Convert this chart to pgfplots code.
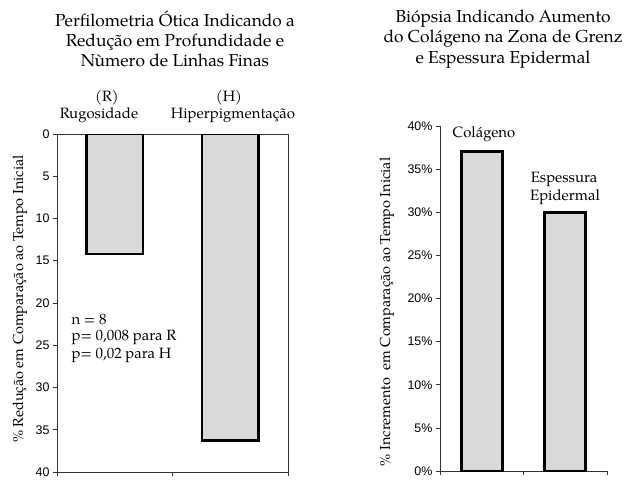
\documentclass[border=0pt]{standalone}
\usepackage{pgfplots}
\pgfplotsset{compat=1.18}
\usepackage{fontspec}
\setmainfont{TeX Gyre Pagella}
\newfontfamily\arial{Liberation Sans}
\definecolor{barfill}{HTML}{D9D9D9}
\begin{document}
\begin{tikzpicture}[x=1bp,y=1bp]
\useasboundingbox (0,0) rectangle (628,-480);
% Left panel
\begin{axis}[
  at={(57bp,-472bp)}, anchor=south west,
  width=231bp, height=338bp, scale only axis,
  ymin=0, ymax=40, y dir=reverse,
  xmin=-0.5, xmax=1.5,
  xtick={-0.5,0.5,1.5}, xticklabels={,,}, xtick pos=left,
  ytick={0,5,...,40}, ytick pos=left,
  tick align=outside, major tick length=4bp,
  tick style={black!80, line width=0.6pt},
  axis line style={black!80, line width=0.6pt},
  /pgf/number format/assume math mode=true,
  yticklabel style={font=\arial\fontsize{12.5}{14}\selectfont},
  ybar, bar width=0.49,
]
\addplot[fill=barfill, draw=black, line width=2.8bp] coordinates {(0,14.2) (1,36.3)};
\end{axis}
% Right panel
\begin{axis}[
  at={(440bp,-471bp)}, anchor=south west,
  width=167bp, height=345bp, scale only axis,
  axis lines=left, axis line style={-, black!80, line width=0.6pt},
  ymin=0, ymax=40,
  xmin=-0.5, xmax=1.5,
  xtick={-0.5,0.5,1.5}, xticklabels={,,},
  ytick={0,5,...,40},
  yticklabel={\pgfmathprintnumber{\tick}\%},
  tick align=outside, major tick length=4bp,
  tick style={black!80, line width=0.6pt},
  /pgf/number format/assume math mode=true,
  yticklabel style={font=\arial\fontsize{12.5}{14}\selectfont},
  ybar, bar width=0.49,
]
\addplot[fill=barfill, draw=black, line width=2.8bp] coordinates {(0,37) (1,30)};
\end{axis}
% Titles
\node[align=center, font=\fontsize{17.4}{20.5}\selectfont] at (175,-39)
  {Perfilometria Ótica Indicando a\\Redução em Profundidade e\\Nùmero de Linhas Finas};
\node[align=center, font=\fontsize{17.4}{20.5}\selectfont] at (503,-39)
  {Biópsia Indicando Aumento\\do Colágeno na Zona de Grenz\\e Espessura Epidermal};
% Labels
\begin{scope}[every node/.style={font=\fontsize{15}{17}\selectfont}]
\node at (107,-98) {(R)};
\node at (99,-115) {Rugosidade};
\node at (229,-98) {(H)};
\node at (233,-115) {Hiperpigmentação};
\node[anchor=west] at (68,-319) {n = 8};
\node[anchor=west] at (68,-337) {p= 0,008 para R};
\node[anchor=west] at (68,-355) {p= 0,02 para H};
\node at (484,-134) {Colágeno};
\node at (564,-179) {Espessura};
\node at (565,-197) {Epidermal};
\end{scope}
\begin{scope}[every node/.style={font=\fontsize{14.5}{17}\selectfont}]
\node[rotate=90] at (20,-299) {\% Redução em Comparação ao Tempo Inicial};
\node[rotate=90] at (387,-312) {\% Incremento\ \ em Comparação ao Tempo Inicial};
\end{scope}
\end{tikzpicture}
\end{document}
